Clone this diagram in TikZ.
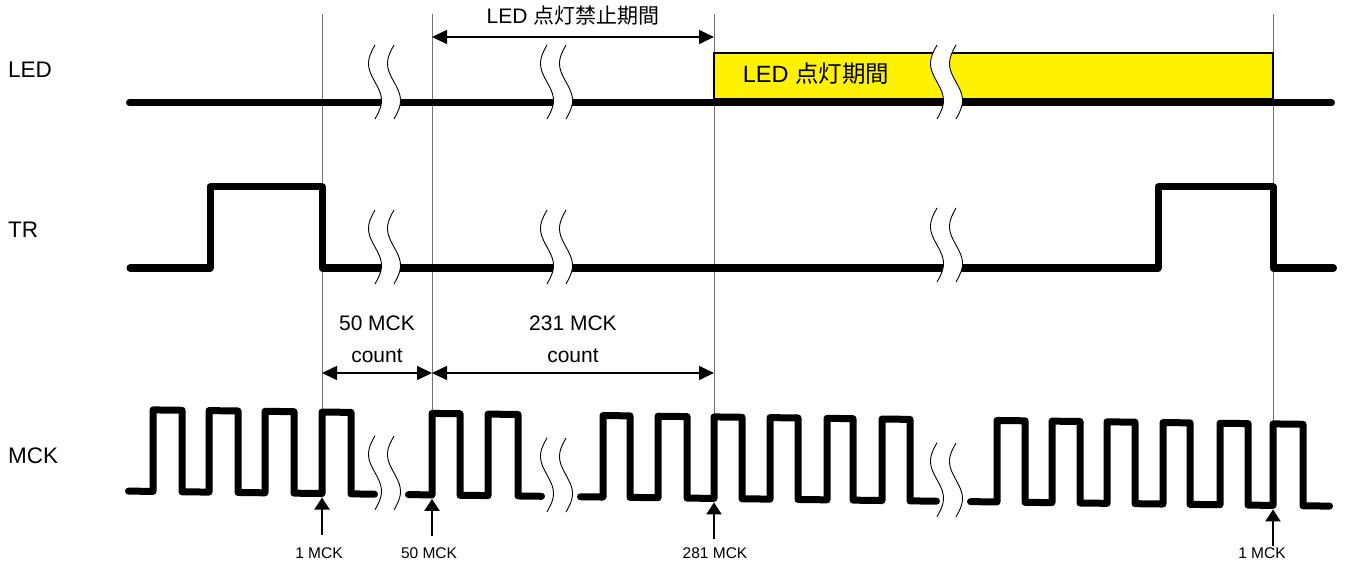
\documentclass[tikz,border=0pt]{standalone}
\usepackage{fontspec}
\setmainfont{Liberation Sans}
\newfontfamily\cjk{Noto Sans CJK JP}
\usetikzlibrary{arrows.meta}
\newcommand\brkmark[2]{%
  \fill[white] plot[domain=0:1,samples=30] ({#1-9.5-6.5*sin(360*\x)},{#2+74*\x})
    -- plot[domain=0:1,samples=30] ({#1+9.5-6.5*sin(360*(1-\x))},{#2+74*(1-\x)}) -- cycle;
  \draw[brkline] plot[domain=0:1,samples=30] ({#1-9.5-6.5*sin(360*\x)},{#2+74*\x});
  \draw[brkline] plot[domain=0:1,samples=30] ({#1+9.5-6.5*sin(360*\x)},{#2+74*\x});
}
\begin{document}
\begin{tikzpicture}[x=1pt,y=-1pt,
  wave/.style={line width=7pt,line cap=round,line join=round},
  guide/.style={line width=1pt,black!55},
  brkline/.style={line width=0.9pt,black},
  dimarrow/.style={line width=1.6pt,{Triangle[width=14pt,length=15pt]}-{Triangle[width=14pt,length=15pt]}},
  ptr/.style={line width=2pt,-{Triangle[width=15pt,length=12pt]}},
  sig/.style={font=\fontsize{22.5}{26}\selectfont,inner sep=0,anchor=base west},
  dimlbl/.style={font=\fontsize{21}{24}\selectfont,inner sep=0,anchor=base},
  ticklbl/.style={font=\fontsize{15.5}{18}\selectfont,inner sep=0,anchor=base},
  ledbox/.style={fill=yellow,draw=black,line width=1.5pt}
]
\useasboundingbox (0,0) rectangle (1347,564);

% guide tops
\coordinate (g1) at (322,14);
\coordinate (g2) at (432,14);
\coordinate (g3) at (714,14);
\coordinate (g4) at (1273,14);

% MCK reference coordinates (slightly sloped)
\begin{scope}[yslant=-0.0125]
  \coordinate (m1) at (322,408);
  \coordinate (m2) at (432,408);
  \coordinate (m3) at (714,408);
  \coordinate (m4) at (1273,408);
  \coordinate (p1) at (322,493.5);   \coordinate (q1) at (322,530.5);
  \coordinate (p2) at (432,493.5);   \coordinate (q2) at (432,530.5);
  \coordinate (p3) at (714,493.5);   \coordinate (q3) at (714,530.5);
  \coordinate (p4) at (1273,493.5);  \coordinate (q4) at (1273,530.5);
\end{scope}

% guide lines
\draw[guide] (g1) -- (m1);
\draw[guide] (g2) -- (m2);
\draw[guide] (g3) -- (m3);
\draw[guide] (g4) -- (m4);

% LED
\draw[ledbox] (714,53) rectangle (1273,99);
\draw[wave] (129.5,103) -- (1331.5,103);

% TR
\draw[wave] (130,268) -- (210,268) -- (210,187) -- (322,187) -- (322,268)
  -- (1158,268) -- (1158,187) -- (1273,187) -- (1273,268) -- (1333.5,268);

% MCK
\begin{scope}[yslant=-0.0125]
  \def\L{489.5}\def\H{408}
  \draw[wave] (128.5,\L) -| (153,\H) -| (182,\L) -| (209,\H) -| (238,\L)
    -| (265,\H) -| (294,\L) -| (322,\H) -| (351,\L) -- (374.5,\L);
  \draw[wave] (408.5,\L) -| (432,\H) -| (460,\L) -| (488,\H) -| (518,\L) -- (541.5,\L);
  \draw[wave] (580.5,\L) -| (603,\H) -| (630,\L) -| (658,\H) -| (687,\L)
    -| (714,\H) -| (742,\L) -| (770,\H) -| (798,\L) -| (827,\H) -| (853,\L)
    -| (882,\H) -| (910,\L) -- (936.5,\L);
  \draw[wave] (970.5,\L) -| (997,\H) -| (1025,\L) -| (1052,\H) -| (1080,\L)
    -| (1107,\H) -| (1135,\L) -| (1163,\H) -| (1190,\L) -| (1220,\H) -| (1248,\L)
    -| (1273,\H) -| (1303,\L) -- (1329.5,\L);
  \brkmark{384.5}{431}
  \brkmark{556.5}{431}
  \brkmark{946.5}{431}
  \draw[ptr] (q1) -- (p1);
  \draw[ptr] (q2) -- (p2);
  \draw[ptr] (q3) -- (p3);
  \draw[ptr] (q4) -- (p4);
\end{scope}

% breaks LED and TR rows
\brkmark{384.5}{45}
\brkmark{556.5}{45}
\brkmark{946.5}{45}
\brkmark{384.5}{210}
\brkmark{556.5}{210}
\brkmark{946.5}{208}

% signal names
\node[sig] (nLED) at (8,78) {LED};
\node[sig] (nTR) at (8,238) {TR};
\node[sig] (nMCK) at (8,463) {MCK};

% inhibit period
\coordinate (a1) at (432,37);
\coordinate (a2) at (714,37);
\draw[dimarrow] (a1) -- (a2);
\node[dimlbl] (tinh) at (573,24) {LED {\cjk 点灯禁止期間}};
\node[font=\fontsize{23.5}{27}\selectfont,inner sep=0,anchor=base] (ton) at (816,83) {LED {\cjk 点灯期間}};

% count dimensions
\coordinate (d1) at (322,373);
\coordinate (d2) at (432,373);
\coordinate (d3) at (714,373);
\draw[dimarrow] (d1) -- (d2);
\draw[dimarrow] (d2) -- (d3);
\node[dimlbl] (c50a) at (377,330) {50 MCK};
\node[dimlbl] (c50b) at (377,362) {count};
\node[dimlbl] (c231a) at (573,330) {231 MCK};
\node[dimlbl] (c231b) at (573,362) {count};

% tick labels
\node[ticklbl] (t1) at (319,558) {1 MCK};
\node[ticklbl] (t2) at (429,558) {50 MCK};
\node[ticklbl] (t3) at (715,558) {281 MCK};
\node[ticklbl] (t4) at (1262,558) {1 MCK};
\end{tikzpicture}
\end{document}
